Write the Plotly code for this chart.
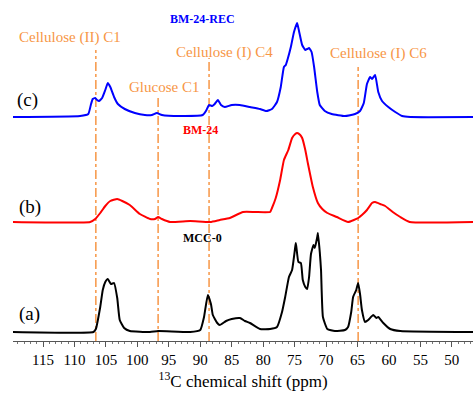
import plotly.graph_objects as go

# ---- data (ppm, intensity above each trace's baseline, arbitrary units) ----
ppm_a = [119.8, 107.0, 106.6, 105.9, 105.5, 105.1, 104.7, 104.2, 103.7, 103.2, 102.8, 102.1, 101.2, 98.0, 96.7,
         91.6, 90.0, 89.4, 88.8, 88.3, 88.0, 87.3, 86.9, 85.9, 85.0, 83.7, 82.9, 82.1, 80.5, 78.9, 77.8, 77.0,
         76.5, 75.9, 75.4, 74.9, 74.8, 74.4, 74.0, 73.7, 73.3, 73.0, 72.7, 72.4, 72.0, 71.8, 71.4, 71.3, 71.0,
         70.8, 70.5, 69.8, 68.6, 67.0, 66.5, 66.0, 65.7, 65.2, 64.9, 64.6, 64.3, 63.8, 63.3, 62.5, 62.0, 61.7,
         60.9, 59.8, 58.2, 46.6]
int_a = [0, 0, 3, 25, 42, 50, 53, 48, 49, 34, 12, 4, 1, 0, 1,
         0, 2, 15, 37, 28, 17, 9, 7, 11, 13, 14, 11, 9, 3, 3, 5, 20,
         35, 55, 62, 85, 89, 70, 69, 52, 45, 43, 55, 78, 87, 84, 95, 99, 80,
         62, 15, 3, 1, 2, 5, 20, 35, 42, 49, 38, 22, 10, 12, 17, 14, 15,
         9, 3, 1, 0]

ppm_b = [119.8, 107.5, 106.7, 105.9, 105.1, 104.3, 103.2, 102.4, 101.2, 99.6, 98.0, 97.2, 96.7, 96.1, 94.8,
         91.6, 88.4, 86.9, 85.3, 83.2, 81.3, 78.9, 78.6, 78.0, 77.3, 76.7, 76.0, 75.4, 74.9, 74.6, 74.1, 73.8,
         73.3, 72.9, 72.1, 71.3, 70.6, 69.8, 68.3, 66.5, 64.9, 64.3, 63.5, 62.7, 62.2, 61.4, 60.6, 59.4, 58.2,
         56.7, 46.6]
int_b = [0, 0, 3, 9, 16, 21, 23, 21, 17, 8, 3, 3, 5, 3, 0,
         1, 0, 2, 4, 10, 10, 10, 14, 24, 42, 62, 72, 84, 88, 89, 87, 84,
         72, 59, 35, 19, 13, 9, 5, 0, 4, 7, 12, 19, 20, 18, 16, 10, 5,
         0, 0]

ppm_c = [119.8, 109.1, 107.8, 107.4, 107.1, 106.7, 106.4, 106.1, 105.6, 105.1, 104.7, 104.3, 103.7, 103.1,
         102.0, 100.4, 98.8, 97.7, 96.9, 96.1, 93.2, 89.6, 89.1, 88.6, 88.1, 87.7, 87.2, 86.7, 86.1, 85.0,
         83.7, 82.1, 80.5, 79.5, 78.6, 77.8, 77.2, 76.7, 76.4, 76.1, 75.6, 75.1, 74.6, 74.3, 73.8, 73.3,
         73.0, 72.7, 72.3, 71.9, 71.4, 71.0, 70.2, 69.1, 67.0, 65.4, 64.6, 64.0, 63.5, 63.0, 62.7, 62.2,
         61.7, 61.1, 60.1, 59.0, 57.9, 56.6, 46.6]
int_c = [0, 1, 3, 12, 18, 19, 17, 16, 19, 27, 34, 30, 20, 13,
         8, 4, 2, 2, 4, 2, 1, 2, 6, 12, 11, 13, 17, 12, 10, 12,
         12, 10, 8, 6, 8, 15, 30, 50, 52, 58, 70, 85, 94, 86, 72, 67,
         68, 69, 65, 50, 25, 12, 6, 3, 1, 3, 6, 14, 33, 40, 38, 42,
         25, 16, 10, 5, 1, 0, 0]

offset_a, offset_b, offset_c = 9, 119, 224

marker_ppm = [106.6, 96.7, 88.6, 64.9]
marker_top = [291, 246, 283, 274]
marker_labels = ["Cellulose (II) C1", "Glucose C1", "Cellulose (I) C4", "Cellulose (I) C6"]
marker_label_pos = [(110.7, 304), (95.8, 254), (86.2, 289), (61.6, 288)]

sample_names = ["MCC-0", "BM-24", "BM-24-REC"]
sample_tags = ["(a)", "(b)", "(c)"]

ORANGE = "#F79646"
SERIF = "Liberation Serif"

fig = go.Figure()
for p, y, off, col in [(ppm_a, int_a, offset_a, "black"),
                       (ppm_b, int_b, offset_b, "#FF0000"),
                       (ppm_c, int_c, offset_c, "#0000FF")]:
    fig.add_trace(go.Scatter(x=p, y=[v + off for v in y], mode="lines",
                             line=dict(color=col, width=2, shape="spline", smoothing=0.4),
                             showlegend=False, hoverinfo="skip"))

for xp, yt in zip(marker_ppm, marker_top):
    fig.add_shape(type="line", xref="x", yref="y", x0=xp, x1=xp, y0=0, y1=yt,
                  line=dict(color=ORANGE, width=1.5, dash="dashdot"), layer="below")

for lab, (xp, yp) in zip(marker_labels, marker_label_pos):
    fig.add_annotation(x=xp, y=yp, text=lab, showarrow=False,
                       font=dict(family=SERIF, size=15, color=ORANGE))

name_pos = [(89.7, 103), (90.0, 211), (89.7, 322)]
name_col = ["black", "#FF0000", "#0000FF"]
for n, (xp, yp), c in zip(sample_names, name_pos, name_col):
    fig.add_annotation(x=xp, y=yp, text="<b>" + n + "</b>", showarrow=False,
                       font=dict(family=SERIF, size=12, color=c))

tag_pos = [(117.1, 27), (117.1, 134), (117.4, 241)]
for t, (xp, yp) in zip(sample_tags, tag_pos):
    fig.add_annotation(x=xp, y=yp, text=t, showarrow=False,
                       font=dict(family=SERIF, size=19, color="black"))

fig.update_layout(
    width=473, height=394,
    margin=dict(l=13, r=0, t=0, b=53),
    paper_bgcolor="white", plot_bgcolor="white",
    font=dict(family=SERIF),
    xaxis=dict(range=[119.77, 46.64], tickmode="array",
               tickvals=[115, 110, 105, 100, 95, 90, 85, 80, 75, 70, 65, 60, 55, 50],
               ticks="outside", ticklen=5, tickcolor="#555", tickwidth=1,
               minor=dict(dtick=1, ticks="outside", ticklen=2, tickcolor="#777"),
               showline=True, linecolor="#555", linewidth=1, showgrid=False, zeroline=False,
               tickfont=dict(family=SERIF, size=15, color="black"),
               title=dict(text="<sup>13</sup>C chemical shift (ppm)", standoff=8,
                          font=dict(family=SERIF, size=17, color="black"))),
    yaxis=dict(range=[0, 341], visible=False, fixedrange=True),
)

fig.write_html("out.html")
